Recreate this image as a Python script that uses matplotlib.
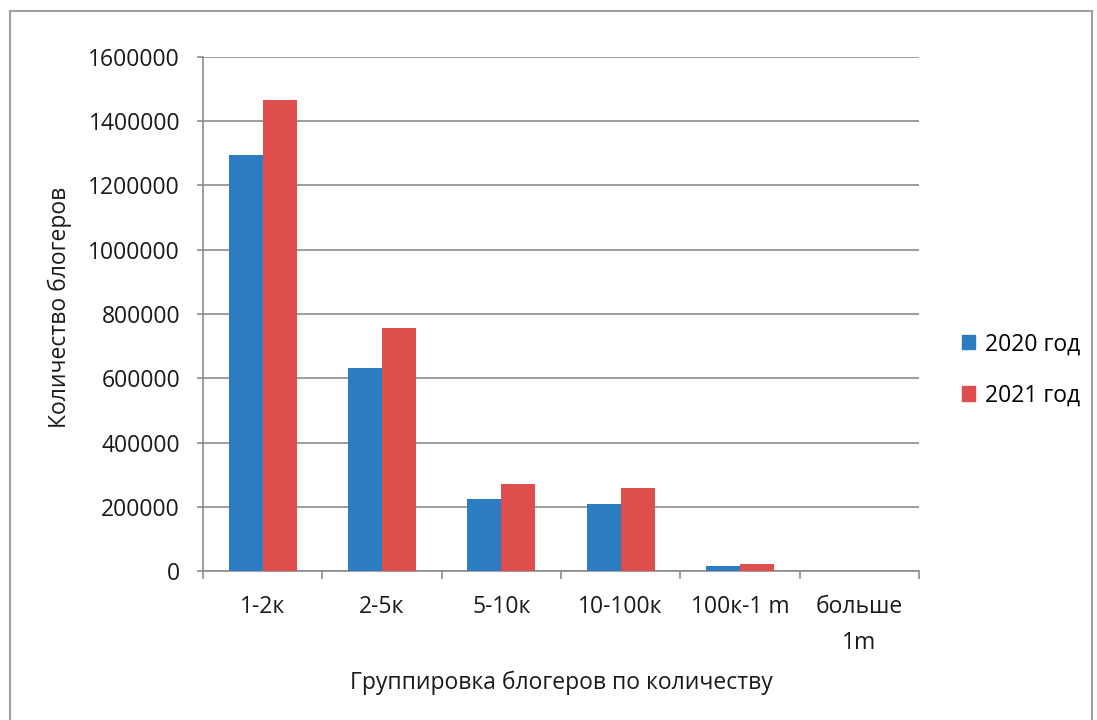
import numpy as np
import matplotlib
matplotlib.use("Agg")
import matplotlib.pyplot as plt
from matplotlib.patches import Patch
from matplotlib.lines import Line2D

plt.rcParams["font.family"] = ["Open Sans", "DejaVu Sans"]

# ========= данные =========
categories = ["1-2к", "2-5к", "5-10к", "10-100к", "100к-1 m", "больше\n1m"]
series_names = ["2020 год", "2021 год"]
values_2020 = [1295000, 632000, 224000, 210000, 15000, 500]
values_2021 = [1466000, 756000, 271000, 258000, 21000, 800]
y_ticks = [0, 200000, 400000, 600000, 800000, 1000000, 1200000, 1400000, 1600000]

colors = ["#2B7CC1", "#DE4E4C"]
grid_color = "#8C8C8C"
text_color = "#1A1A1A"
fs = 16.5

# ========= рисунок =========
fig = plt.figure(figsize=(10.97, 7.2), dpi=100)
ax = fig.add_axes([203 / 1097, 1 - 571 / 720, 716 / 1097, 514 / 720])

x = np.arange(len(categories))
w = 1 / 3.5
ax.bar(x - w / 2, values_2020, width=w, color=colors[0], zorder=3)
ax.bar(x + w / 2, values_2021, width=w, color=colors[1], zorder=3)

ax.set_xlim(-0.5, len(categories) - 0.5)
ax.set_ylim(0, 1600000)
ax.set_yticks(y_ticks)
ax.set_yticklabels([str(v) for v in y_ticks], fontsize=fs, color=text_color)
ax.yaxis.grid(True, color=grid_color, linewidth=1.2, zorder=0)

ax.set_xticks(x)
ax.set_xticklabels(categories, fontsize=fs, color=text_color, va="top", linespacing=1.7)
ax.tick_params(axis="x", length=0, pad=17)
ax.tick_params(axis="y", length=4.5, width=1.2, color=grid_color, pad=12)

# деления на границах категорий
ax.set_xticks(np.arange(len(categories) + 1) - 0.5, minor=True)
ax.tick_params(axis="x", which="minor", length=6, width=1.2, color=grid_color)

for s in ["top", "right"]:
    ax.spines[s].set_visible(False)
for s in ["left", "bottom"]:
    ax.spines[s].set_color(grid_color)
    ax.spines[s].set_linewidth(1.2)

fig.text(60 / 1097, 1 - 307 / 720, "Количество блогеров", rotation=90,
         ha="center", va="center", fontsize=fs, color=text_color)
fig.text(561 / 1097, 1 - 683 / 720, "Группировка блогеров по количеству",
         ha="center", va="center", fontsize=fs, color=text_color)

handles = [Patch(color=c) for c in colors]
fig.legend(handles, series_names, loc="center left",
           bbox_to_anchor=(941 / 1097, 1 - 370 / 720), frameon=False,
           fontsize=fs, handlelength=0.6, handleheight=0.6,
           handletextpad=0.4, labelspacing=1.2)

# рамка вокруг диаграммы
frame_kw = dict(color="#A0A0A0", linewidth=1.5, transform=fig.transFigure)
fig.add_artist(Line2D([10 / 1097, 10 / 1097], [0, 1 - 11 / 720], **frame_kw))
fig.add_artist(Line2D([10 / 1097, 1092 / 1097], [1 - 11 / 720, 1 - 11 / 720], **frame_kw))
fig.add_artist(Line2D([1092 / 1097, 1092 / 1097], [0, 1 - 11 / 720], **frame_kw))

fig.savefig("out.png", dpi=100)
